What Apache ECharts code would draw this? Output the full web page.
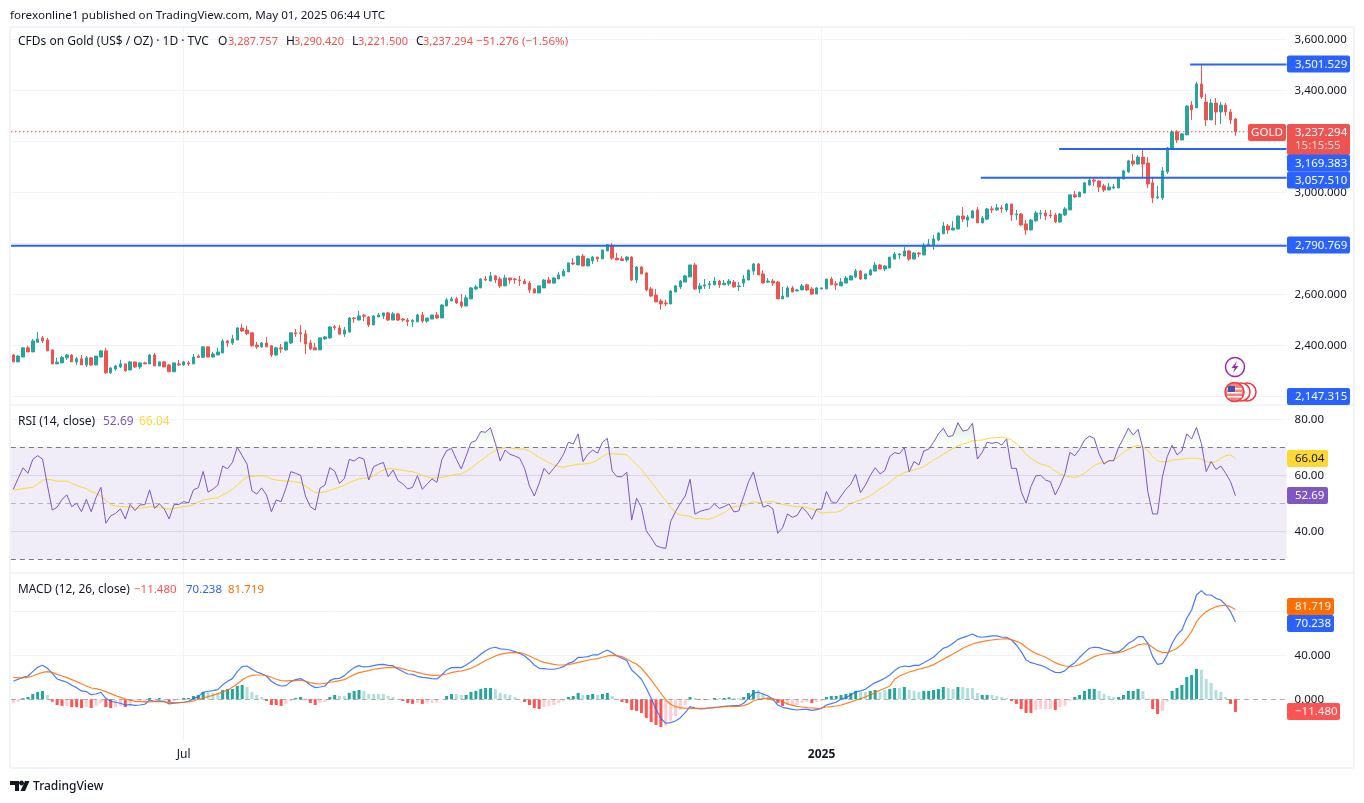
<!DOCTYPE html>
<html>
<head>
<meta charset="utf-8">
<title>CFDs on Gold</title>
<script src="https://cdn.jsdelivr.net/npm/echarts@6/dist/echarts.min.js"></script>
<style>
  html, body { margin: 0; padding: 0; background: #fff; }
  #chart { width: 1364px; height: 803px; }
</style>
</head>
<body>
<div id="chart"></div>
<script>
// open, close, low, high for each daily bar
var ohlc = [
[2362,2335,2335,2365],[2335,2358,2335,2362],[2354,2390,2354,2392],[2390,2374,2374,2398],[2374,2417,2374,2425],[2412,2425,2409,2452],[2429,2417,2409,2437],[2421,2378,2378,2429],[2382,2327,2327,2384],[2327,2334,2327,2351],
[2331,2353,2331,2358],[2351,2362,2343,2366],[2362,2335,2335,2365],[2335,2347,2323,2354],[2347,2323,2323,2362],[2323,2351,2315,2358],[2351,2323,2319,2353],[2323,2358,2323,2358],[2354,2378,2354,2382],[2378,2292,2288,2390],
[2292,2311,2288,2314],[2307,2319,2300,2323],[2315,2327,2311,2343],[2327,2300,2296,2327],[2303,2335,2303,2339],[2335,2315,2311,2335],[2315,2331,2307,2335],[2331,2327,2327,2335],[2327,2362,2327,2366],[2362,2319,2319,2370],
[2319,2335,2319,2335],[2335,2315,2315,2339],[2323,2296,2296,2327],[2296,2331,2296,2331],[2327,2323,2319,2343],[2323,2335,2319,2339],[2331,2327,2319,2339],[2327,2354,2327,2366],[2358,2353,2351,2364],[2353,2394,2351,2394],
[2394,2354,2354,2394],[2354,2366,2351,2374],[2362,2374,2362,2390],[2370,2417,2370,2424],[2417,2409,2394,2421],[2409,2425,2401,2441],[2421,2468,2421,2472],[2468,2456,2452,2484],[2460,2445,2441,2476],[2449,2398,2394,2449],
[2401,2394,2386,2413],[2394,2409,2390,2413],[2409,2394,2394,2433],[2398,2362,2354,2401],[2362,2390,2358,2394],[2390,2386,2370,2405],[2382,2413,2378,2413],[2409,2449,2405,2452],[2449,2445,2433,2464],[2449,2445,2413,2480],
[2445,2405,2366,2460],[2409,2386,2382,2421],[2390,2382,2382,2409],[2382,2429,2382,2429],[2425,2433,2421,2437],[2429,2472,2425,2476],[2473,2469,2460,2480],[2468,2444,2441,2480],[2444,2460,2433,2472],[2452,2507,2452,2511],
[2507,2505,2488,2511],[2499,2515,2499,2535],[2518,2514,2495,2523],[2511,2480,2472,2515],[2480,2515,2480,2519],[2511,2519,2511,2527],[2515,2527,2503,2527],[2527,2499,2495,2531],[2499,2523,2499,2531],[2523,2499,2495,2527],
[2503,2499,2492,2507],[2499,2493,2476,2507],[2493,2497,2472,2503],[2492,2519,2492,2523],[2519,2495,2488,2531],[2495,2507,2488,2507],[2503,2519,2503,2519],[2519,2507,2503,2531],[2507,2558,2507,2562],[2554,2578,2554,2586],
[2574,2582,2574,2590],[2582,2566,2562,2590],[2570,2554,2546,2601],[2554,2586,2554,2597],[2582,2625,2582,2629],[2621,2629,2617,2637],[2625,2660,2625,2664],[2660,2656,2652,2672],[2652,2672,2652,2688],[2672,2656,2644,2676],
[2660,2633,2625,2668],[2633,2664,2633,2676],[2664,2656,2641,2664],[2660,2657,2641,2664],[2656,2654,2633,2672],[2652,2641,2641,2660],[2644,2617,2605,2652],[2621,2605,2605,2625],[2605,2633,2605,2633],[2625,2656,2625,2660],
[2656,2644,2644,2668],[2644,2664,2641,2668],[2660,2676,2660,2688],[2672,2691,2672,2699],[2688,2723,2688,2723],[2723,2719,2715,2742],[2715,2750,2715,2750],[2750,2711,2711,2758],[2711,2739,2711,2742],[2731,2746,2719,2750],
[2746,2739,2727,2746],[2739,2774,2739,2774],[2770,2795,2770,2797],[2793,2742,2735,2801],[2742,2735,2735,2762],[2739,2733,2731,2750],[2735,2746,2727,2750],[2746,2656,2652,2750],[2656,2707,2644,2711],[2707,2680,2680,2711],
[2684,2617,2613,2688],[2621,2593,2590,2629],[2597,2570,2570,2621],[2574,2562,2539,2582],[2566,2562,2554,2578],[2562,2613,2562,2617],[2609,2633,2609,2637],[2629,2652,2621,2656],[2648,2672,2648,2676],[2668,2715,2668,2715],
[2715,2621,2617,2723],[2621,2633,2605,2644],[2633,2637,2621,2660],[2637,2641,2621,2652],[2637,2652,2637,2668],[2652,2637,2625,2656],[2637,2644,2637,2656],[2641,2652,2633,2660],[2648,2629,2625,2656],[2630,2633,2613,2648],
[2644,2660,2629,2676],[2656,2695,2656,2695],[2691,2719,2676,2723],[2719,2676,2676,2723],[2680,2644,2644,2695],[2648,2652,2644,2664],[2652,2644,2633,2660],[2648,2582,2582,2652],[2582,2593,2582,2629],[2590,2625,2590,2633],
[2625,2609,2609,2633],[2613,2617,2613,2621],[2617,2633,2617,2641],[2637,2617,2613,2641],[2621,2601,2597,2629],[2601,2625,2601,2629],[2621,2625,2621,2625],[2621,2660,2621,2660],[2660,2637,2637,2668],[2641,2637,2617,2652],
[2633,2648,2633,2664],[2644,2664,2644,2672],[2656,2672,2656,2676],[2668,2691,2664,2699],[2691,2660,2656,2695],[2660,2680,2660,2680],[2676,2695,2672,2699],[2691,2715,2691,2727],[2715,2699,2699,2719],[2699,2711,2691,2715],
[2703,2746,2703,2746],[2738,2758,2738,2766],[2754,2758,2738,2762],[2750,2770,2750,2786],[2770,2738,2731,2774],[2738,2762,2738,2766],[2762,2758,2746,2766],[2754,2793,2754,2801],[2793,2797,2793,2817],[2793,2817,2774,2833],
[2813,2840,2809,2844],[2837,2868,2837,2884],[2868,2852,2837,2876],[2852,2860,2852,2887],[2856,2907,2856,2909],[2907,2895,2884,2942],[2891,2903,2864,2911],[2899,2927,2899,2931],[2931,2880,2880,2942],[2880,2899,2880,2907],
[2895,2935,2891,2939],[2935,2931,2919,2946],[2931,2939,2927,2954],[2939,2935,2919,2950],[2931,2954,2923,2958],[2954,2911,2888,2954],[2912,2915,2891,2931],[2915,2872,2868,2919],[2876,2852,2833,2891],[2852,2891,2852,2895],
[2888,2919,2884,2927],[2916,2919,2895,2931],[2919,2907,2891,2931],[2911,2907,2899,2931],[2911,2884,2880,2919],[2884,2915,2880,2919],[2911,2935,2907,2942],[2931,2990,2931,2990],[2990,2982,2978,3005],[2982,3001,2982,3001],
[2997,3037,2997,3040],[3029,3048,3025,3056],[3048,3044,3025,3060],[3044,3021,3001,3048],[3025,3009,3001,3033],[3009,3021,3009,3037],[3017,3021,3013,3033],[3017,3056,3017,3060],[3052,3084,3052,3088],[3080,3123,3076,3127],
[3123,3111,3103,3150],[3111,3138,3107,3146],[3138,3111,3056,3170],[3115,3033,3017,3138],[3037,2978,2958,3056],[2978,2982,2974,3025],[2978,3084,2970,3099],[3080,3174,3072,3178],[3174,3237,3174,3244],[3237,3205,3193,3244],
[3205,3229,3205,3233],[3225,3338,3225,3342],[3342,3323,3284,3358],[3331,3425,3331,3433],[3425,3374,3366,3500],[3354,3284,3260,3386],[3284,3350,3284,3366],[3350,3315,3264,3370],[3315,3342,3268,3354],[3342,3315,3299,3350],
[3315,3284,3268,3327],[3287.757,3237.294,3221.5,3290.42]
];

var rsi = [
55,58.9,62.7,60.7,65.7,67,65.8,56.5,47.6,48.6,51.4,53,48.8,50,47,51.4,47,52.1,55.7,42.9,
45.5,46.4,48,44.4,49.6,47.4,49.4,49.5,54.8,48.2,49.8,48,44.4,49.5,49.6,50.6,50.1,54.8,55.6,61.4,
54,55,56.5,63.3,62.3,64.6,70,67,64,54.5,53.3,55.5,53,47,51.2,50.6,55.4,61.3,60.7,60,
52.6,48.8,47.6,55.4,56.5,62.7,61.5,57.1,58.9,65.7,65.1,66.4,65.8,58.3,63.1,63.9,64.6,59.5,61.9,58.1,
56.9,55.1,55.7,59.9,55,56.9,58.7,57.5,
65.5,68.8,69.6,65.7,62.3,66.9,71.7,72.4,75.6,75.4,77,71.4,65.1,69,67.5,66.9,66.1,62.5,56.2,52.6,
57.1,62.5,60.4,62.5,64.6,67.5,71.8,71.2,74.8,64.9,67.5,69,67.9,71.8,73.2,61.5,59.5,59.5,61.1,44,
51.8,48.5,40.2,37.7,34.9,34.2,33.9,43.5,47,50,52.6,58.6,46.1,47.1,47.6,48,49.8,48.2,48.8,49.8,
46.9,47.3,52.4,57.7,61.2,54.2,48.6,49.3,48,39.3,41.3,46.2,45,45.7,48.6,46.8,44.3,47.9,47.9,54.2,
50.6,50,52.6,55,56.8,60.4,53.8,56.5,59.9,62.7,
60.5,61.7,66.7,68.1,67.7,69.9,61.3,64.9,63.7,68.7,69.3,71.8,74.8,76.8,73.8,74.2,78.8,75.8,76.2,78.6,
65.8,68.2,71.8,71.4,71.8,70.8,73,62.5,62.5,54.2,50,56,59.8,60,58.3,57.7,53,56.5,60.7,68.2,
67,69.3,72.6,74,73.2,67.6,64,65.2,65.2,70,73.2,76.8,74.4,76.4,69.6,54.2,46.2,46.2,59.5,66.7,
70.8,67.3,68.7,74.8,73,77.1,71.4,61.3,64.9,62.1,63.3,60.7,57.7,52.69
];

var rsiMa = [
54.8,55,55.2,55.5,55.7,56.9,58.2,58.6,58.3,57.9,57.9,57.9,57.1,56.4,55.8,55.2,54.2,53.6,52.6,51,
49.5,49,48.9,48.8,48.6,48.3,48.3,48.5,48.8,48.7,48.6,48.1,47.9,48.2,48.5,48.8,49,49.5,50.4,51.2,
51.5,51.8,52,53,53.8,55,56.5,58.1,59.3,59.6,59.8,59.8,59.6,58.7,58.3,58.1,57.9,57.9,57.6,57.4,
56.2,55,53.8,53.9,54,54.6,55.2,55.8,56.4,57.4,58.1,58.7,58.9,59.2,59.8,61,61.9,62.3,62.4,62,
61.8,61.5,61.3,60.7,60,59.4,59,59,
59.3,59.6,60,60.4,60.5,61.4,62.5,63.9,65.2,66.4,67.9,68.8,69.5,69.9,69.8,69.5,69.4,69.3,68.7,67.5,
66.4,65.5,64.5,63.7,63.1,62.9,63.3,63.6,64,64,64.2,64.6,65.5,66.7,67.7,67.7,67.6,67.5,67.3,65.5,
63.9,62.1,59.9,57.7,55.4,53,51,48.5,46.8,45.8,45.5,45.4,44.5,44.6,44.4,44.3,45,45.8,46.7,47.9,
48.8,49,49.3,49.9,50.6,50.2,50.4,50.6,50.6,50.1,49.5,49.3,49,48.8,48.8,48.5,47.9,47.4,46.5,46.7,
46.8,46.8,47.4,48.6,49.9,50.6,51.2,51.8,52.7,53.9,55.2,56.2,57.4,
58.9,60.1,61,61.4,61.9,62.5,63.1,64.3,65.5,66.4,67.5,68.6,69.6,70.5,71.1,71.7,72.4,72.5,72.6,73.1,
73.3,73.5,73.6,73.3,72.6,71.4,69.6,67.5,66.1,64.9,64,63.6,62.9,61.5,60.5,59.8,59.4,59.2,59.8,60.7,
62.1,63.5,64.3,64.6,65.1,65.5,66.7,68.1,69.3,70.2,70.7,70.2,68.8,66.7,65.2,64.8,64.9,65.5,65.6,65.8,
66,66.1,66.1,65.8,64.9,64.5,64.9,66.1,67,67.3,66.04
];

var macdLine = [
16.4,18.2,20,21.2,25.2,29.1,30.9,28.2,23.6,18.5,17,15.5,12.7,10.6,7.6,7,4.2,4.8,6.4,.9,
-1.8,-2.7,-3.6,-5.2,-4.8,-5.5,-5.2,-4.5,-.6,-1.8,-1.5,-1.8,-4.2,-3.6,-3,-2.7,-1.8,.6,2.4,6.4,
7.3,7.9,8.8,13.3,16.4,18.8,25.2,29.7,30.3,27.3,24.8,23.3,21.2,16.4,13.6,12.1,12.4,16.1,17.9,18.8,
16.4,13,10.6,11.2,12.1,17,18.8,19.1,21.5,25.5,28.8,30.6,29.4,29.7,30.6,31.5,31.8,30.9,30.6,27.6,
25.2,23,22.7,20.9,20,19.4,18.8,18.5,
22.1,26.7,28.8,29.1,28.8,31.2,34.2,37.3,40.9,44.2,46.4,47.3,45.8,45.5,44.8,43.3,41.8,39.4,35.8,31.2,
28.2,27.9,27.3,27.3,28.2,29.7,32.7,34.2,38.2,38.2,38.8,40.3,40.3,42.7,44.8,42.4,39.4,37.3,35.2,26.7,
22.7,18.2,10,.9,-9.1,-17.3,-21.8,-21.2,-19.7,-16.7,-12.1,-6.7,-7.9,-8.8,-8.5,-7.9,-7.3,-7,-6.4,-6.1,
-5.8,-5.8,-3.6,.9,5.5,6.4,4.8,3,.3,-5.2,-7.3,-8.2,-9.1,-9.7,-9.1,-9.1,-10,-9.4,-8.2,-5.2,
-3.9,-2.7,0,1.5,3.9,6.7,7.6,9.1,12.4,15.2,17,19.1,22.1,
26.1,29.1,30.3,29.7,30.9,30.9,33.3,35.8,38.2,42.4,46.4,47.9,50.9,54.5,56.1,57.6,59.4,57,56.4,57,
57.6,57.6,56.4,56.4,53.9,49.4,43.3,35.8,33.3,32.1,30.9,29.1,26.7,24.5,24.2,26.1,30.3,33.3,38.2,42.4,
46.4,47.3,47,45.5,44.2,42.7,43.3,46.4,50.9,53.3,57,57,50.9,38.8,31.8,32.7,40.3,50.9,58.5,63,
73.6,81.2,94.8,98.8,94.8,94.8,91.8,90.3,85.8,79.7,70.238
];

var signalLine = [
20,19.4,19.4,20,21.2,23,24.5,25.2,24.5,22.7,21.2,19.7,17.9,16.1,14.2,12.1,10.3,9.7,8.5,7,
5.2,3.3,1.8,.3,-.9,-1.8,-2.1,-2.4,-2.4,-2.1,-2.1,-2.4,-3,-3,-3,-2.7,-2.4,-1.5,0,1.2,
2.4,3.6,5.2,6.7,8.5,10.9,13.9,17.6,20.3,21.8,22.1,22.1,21.5,20,18.2,17,16.7,17,17,17.3,
16.4,15.2,14.2,13.9,14.5,15.5,16.1,17,17.9,20.3,22.4,24.2,25.2,26.1,27.3,27.9,28.5,28.8,29.1,28.8,
27.6,26.4,25.5,24.5,23.3,22.4,21.8,21.8,
22.1,23,24.2,25.2,25.8,26.7,28.2,30.3,32.7,35.2,37.3,39.4,40.9,41.8,42.4,42.4,42.4,41.2,39.4,37.3,
35.2,33.6,32.7,31.8,31.2,31.2,31.5,32.4,33.6,34.5,35.5,36.4,37,38.2,39.4,40,39.7,38.8,36.7,34.2,
32.1,28.2,23,17.6,11.5,5.5,-.6,-4.5,-6.7,-7.6,-8.2,-8.2,-8.2,-8.2,-8.2,-7.9,-7.6,-7,-6.7,-6.4,
-6.4,-6.4,-5.8,-4.2,-1.5,0,.6,.9,.6,-.6,-2.4,-4.2,-5.5,-6.4,-7,-7.6,-7.9,-8.2,-7.9,-7,
-6.7,-6.1,-5.2,-3.9,-2.4,-.9,.6,2.1,4.2,6.1,8.2,10,12.1,
18.2,21.2,23,24.8,26.1,27.3,28.5,29.7,31.5,33.9,36.4,38.8,41.2,43.6,46.4,48.5,50.3,51.5,52.4,53.3,
53.9,54.5,54.8,55.2,54.2,52.7,50.9,47.3,44.2,41.8,40,38.2,35.8,33.3,31.5,30.3,29.7,30.3,31.5,33.9,
36.4,38.8,40.3,41.2,41.5,41.8,42.4,43.6,45.5,47.3,49.4,50.3,50.3,47.3,44.2,42.4,42.4,44.2,46.4,50,
55.5,61.5,70.6,75.8,79.7,82.1,84.2,85.2,85.5,84.2,81.719
];

var histValues = [
-3.6,-2.4,1,2.1,4.8,6.7,7.6,3.9,-2.1,-5.2,-6,-6,-7,-7,-7.9,-7,-7.9,-6,-3.3,-7,
-7.9,-7,-6,-7,-4.2,-2.4,-1.5,-2.4,1.2,.5,1.2,.3,-2.4,-1.5,.3,1.2,1.2,3,3.9,6.7,
6.7,5.8,5.8,8.5,9.4,9.4,12.1,13,11.2,6.7,3.9,2.1,-1.5,-5.2,-5.2,-6,-4.2,-1.5,1.2,2.1,
-.6,-3.3,-5.2,-3.3,-2.4,2.1,3.9,3,3,5.8,7.6,8.5,7.6,4.8,4.8,4.8,4.8,3,2.1,-.3,
-1.5,-3.3,-4.2,-3.3,-4.2,-3.3,-3.3,-3.3,
-.3,3,4.8,4.8,3.9,3.9,6.7,7.6,9.4,10.3,10.3,9.4,5.8,4.8,3.9,2.1,-.3,-2.4,-5.2,-7.9,
-8.8,-7,-6,-5.2,-3.3,-1.5,2.1,3,5.8,3.9,3.9,4.8,3.9,4.8,5.8,3,-.3,-2.4,-3.3,-9.7,
-10.6,-12.4,-17,-20.6,-23.3,-25.2,-24.2,-19.7,-15.2,-9.7,-5.2,2.1,1.2,-.6,-.6,-.6,1.2,1.2,1.2,1.8,
1.2,1.2,2.1,5.8,8.5,8.5,4.8,2.1,-1,-3.3,-6,-5.2,-5.2,-5.2,-3.3,-2.4,-3.3,-2.4,-1.5,2.1,
3,3,3.9,4.8,5.8,7.6,6.7,6.7,7.6,8.5,6.7,8.5,9.4,
10.3,10.3,11.2,8.5,7.6,6.7,7.6,7.6,8.5,9.4,11.2,10.3,9.4,11.2,11.2,10.3,10.3,5.8,3.9,3.9,
3.9,3,2.1,1.2,-1.5,-4.2,-8.8,-12.4,-12.4,-9.7,-8.8,-8.8,-8.8,-9.7,-6.9,-6,-1.5,2.1,3.9,7.6,
9.4,9.4,7.6,4.8,3,2.1,2.1,3.9,7.6,7.6,9.4,7.6,-.3,-8.8,-13.3,-10.6,-2.4,7.6,10.3,13,
20.3,22.1,27.6,26.7,18.5,14.8,8.5,6.7,2.1,-4.2,-11.48
];

// 1 = strong bar colour, 0 = pale bar colour
var histStrong = [
0,0,1,1,1,1,1,0,1,1,1,0,1,1,1,0,1,0,0,1,
1,0,0,1,0,0,0,0,1,0,1,0,1,0,1,1,1,1,1,1,
0,0,0,1,1,1,1,1,0,0,0,0,1,1,1,1,0,0,1,1,
1,1,1,0,0,1,1,0,0,1,1,1,0,0,0,0,0,0,0,1,
1,1,1,0,1,0,0,0,
0,1,1,0,0,1,1,1,1,1,1,0,0,0,0,0,0,1,1,1,
1,0,0,0,0,0,1,1,1,0,1,1,0,1,1,0,0,1,1,1,
1,1,1,1,1,1,0,0,0,0,0,1,0,1,1,0,1,0,1,1,
0,0,1,1,1,0,0,0,1,1,1,0,0,0,0,0,1,0,0,1,
1,1,1,1,1,1,0,0,1,1,0,0,1,
1,0,1,0,0,0,1,1,1,1,1,0,0,1,0,0,0,0,1,1,
0,0,0,0,1,1,1,1,1,0,0,0,0,1,0,0,0,1,1,1,
1,1,0,0,0,0,1,1,1,1,1,0,0,1,1,0,0,1,1,1,
1,1,1,0,0,0,0,0,0,1,1
];

var levelValues = [2790.769, 3057.51, 3169.383, 3501.529];
var levelStarts = [0, 199.2, 215.3, 242.2];
var lastPrice = 3237.294;
var lastPriceEnd = 254;
var xTicks = { '2024-07-01': 'Jul', '2025-01-02': '2025' };
var closedDays = ['2024-12-25', '2025-01-01'];

var BAR_SLOTS = 262;
var dates = [];
var day = Date.UTC(2024, 4, 13);
while (dates.length < BAR_SLOTS) {
  var d = new Date(day);
  var iso = d.toISOString().slice(0, 10);
  if (d.getUTCDay() !== 0 && d.getUTCDay() !== 6 && closedDays.indexOf(iso) < 0) {
    dates.push(iso);
  }
  day += 86400000;
}

var INK = '#131722';
var RED = '#ef5350';
var GREEN = '#26a69a';
var BLUE = '#2962ff';
var PURPLE = '#7e57c2';
var YELLOW = '#fdd835';
var ORANGE = '#ff6d00';
var GRID = '#f0f3fa';
var FONT = '"Noto Sans", sans-serif';
var GRID_LEFT = 10.87;
var GRID_WIDTH = 1275.7;

var elements = [];

function addText(x, y, str, color, font, align) {
  elements.push({
    type: 'text', silent: true,
    style: {
      x: x, y: y + 1, text: str, fill: color, font: font || '11.5px ' + FONT,
      align: align || 'left', verticalAlign: 'middle',
      textAlign: align || 'left', textVerticalAlign: 'middle'
    }
  });
}

function addRect(x, y, w, h, fill, r) {
  elements.push({
    type: 'rect', silent: true,
    shape: { x: x, y: y, width: w, height: h, r: r || 0 },
    style: { fill: fill }
  });
}

function addLine(x1, y1, x2, y2, color, width) {
  elements.push({
    type: 'line', silent: true,
    shape: { x1: x1, y1: y1, x2: x2, y2: y2 },
    style: { stroke: color, lineWidth: width || 1 }
  });
}

function addCircle(cx, cy, r, fill, stroke, width) {
  elements.push({
    type: 'circle', silent: true,
    shape: { cx: cx, cy: cy, r: r },
    style: { fill: fill, stroke: stroke, lineWidth: width || 1 }
  });
}

function addPoly(points, fill) {
  elements.push({
    type: 'polygon', silent: true,
    shape: { points: points },
    style: { fill: fill }
  });
}

function addTag(cy, str, fill, textColor, width) {
  addRect(1287, cy - 8.5, width || 63, 17, fill, 2);
  addText(1295, cy - 0.5, str, textColor || '#fff');
}

// frame and pane separators
elements.push({
  type: 'rect', silent: true,
  shape: { x: 10, y: 27, width: 1344, height: 741, r: 2 },
  style: { fill: 'transparent', stroke: GRID, lineWidth: 2 }
});
addLine(10, 405, 1354, 405, '#e8eaf0', 1);
addLine(10, 573, 1354, 573, '#e8eaf0', 1);

var LEGEND_FONT = '12px ' + FONT;
var VALUE_FONT = '11px ' + FONT;

// header and legends
addText(10, 14.5, 'forexonline1 published on TradingView.com, May 01, 2025 06:44 UTC', INK, '11.65px ' + FONT);
addText(18, 41, 'CFDs on Gold (US$ / OZ) · 1D · TVC', INK, LEGEND_FONT);
addText(218, 41, 'O', INK, LEGEND_FONT);
addText(228, 41, '3,287.757', RED, VALUE_FONT);
addText(286, 41, 'H', INK, LEGEND_FONT);
addText(294, 41, '3,290.420', RED, VALUE_FONT);
addText(352, 41, 'L', INK, LEGEND_FONT);
addText(358, 41, '3,221.500', RED, VALUE_FONT);
addText(416, 41, 'C', INK, LEGEND_FONT);
addText(423, 41, '3,237.294', RED, VALUE_FONT);
addText(476, 41, '−51.276 (−1.56%)', RED, '11.6px ' + FONT);

addText(18, 420.5, 'RSI (14, close)', INK, LEGEND_FONT);
addText(103, 420.5, '52.69', PURPLE, LEGEND_FONT);
addText(139, 420.5, '66.04', YELLOW, LEGEND_FONT);

addText(18, 588.5, 'MACD (12, 26, close)', INK, '11.8px ' + FONT);
addText(134, 588.5, '−11.480', '#ff5252', '11.5px ' + FONT);
addText(186, 588.5, '70.238', BLUE, '11.5px ' + FONT);
addText(228, 588.5, '81.719', ORANGE, '11.5px ' + FONT);

// price scale tags
addTag(64, '3,501.529', BLUE);
addRect(1248, 124, 38, 17, RED, 2);
addText(1267, 132, 'GOLD', '#fff', '11.5px ' + FONT, 'center');
addRect(1287, 124, 63, 31, RED, 2);
addText(1295, 131.5, '3,237.294', '#fff');
addText(1295, 144.5, '15:15:55', 'rgba(255,255,255,0.8)');
addTag(163, '3,169.383', BLUE);
addTag(180, '3,057.510', BLUE);
addTag(245, '2,790.769', BLUE);
addTag(396.5, '2,147.315', BLUE);

addTag(458.5, '66.04', YELLOW, INK, 41);
addTag(495.5, '52.69', PURPLE, '#fff', 41);

addTag(606.5, '81.719', ORANGE, '#fff', 47);
addTag(623.5, '70.238', BLUE, '#fff', 47);
addTag(711.5, '−11.480', '#ff5252', '#fff', 53);

// event icons
addCircle(1235, 367, 9.5, '#fff', '#9c27b0', 1.5);
addPoly([[1237, 361], [1231.5, 368], [1234.8, 368], [1233, 373], [1238.5, 366], [1235.2, 366]], '#9c27b0');
addCircle(1247, 392, 9, '#fff', '#f23645', 1.5);
addCircle(1241, 392, 9, '#fff', '#f23645', 1.5);
addCircle(1234.5, 392, 9.5, '#f4827d', '#f23645', 1.5);
addRect(1227, 388, 15, 1.5, '#fff');
addRect(1227, 392, 15, 1.5, '#fff');
addRect(1227, 396, 15, 1.5, '#fff');
addRect(1228, 386, 7, 6, '#3f51b5', 1);

// TradingView mark
addPoly([[10, 781], [19, 781], [19, 791], [15, 791], [15, 785], [10, 785]], INK);
addCircle(21.5, 783, 2, INK, INK, 0);
addPoly([[25, 781], [29.5, 781], [25, 791], [20.5, 791]], INK);
addText(33, 785.5, 'TradingView', INK, '500 12px ' + FONT);

elements.forEach(function (el) {
  el.z = 100;
});

function isTick(index) {
  return !!xTicks[dates[index]];
}

function categoryAxis(gridIndex) {
  return {
    type: 'category', gridIndex: gridIndex, data: dates, show: false, boundaryGap: true
  };
}

function levelSeries(value, start, end, color, width, style) {
  return {
    type: 'line', xAxisIndex: 4, yAxisIndex: 0, data: [[start, value], [end, value]],
    symbol: 'none', silent: true, z: 4,
    lineStyle: { color: color, width: width, type: style || 'solid' }
  };
}

var series = [
  {
    type: 'candlestick', xAxisIndex: 0, yAxisIndex: 0, data: ohlc, barWidth: 3, z: 3,
    itemStyle: { color: GREEN, color0: RED, borderColor: GREEN, borderColor0: RED, borderWidth: 1 }
  },
  levelSeries(lastPrice, 0, lastPriceEnd, '#f23645', 1, [1.5, 2.5])
];
levelValues.forEach(function (value, i) {
  series.push(levelSeries(value, levelStarts[i], BAR_SLOTS, BLUE, 2));
});

series.push({
  type: 'line', xAxisIndex: 1, yAxisIndex: 1, data: rsi.map(function (v) { return Math.max(v, 70); }),
  symbol: 'none', silent: true, lineStyle: { opacity: 0 }, z: 2,
  areaStyle: {
    origin: 70,
    color: new echarts.graphic.LinearGradient(0, 0, 0, 1, [
      { offset: 0, color: 'rgba(76,175,80,0.28)' },
      { offset: 1, color: 'rgba(76,175,80,0)' }
    ])
  }
});
series.push({
  type: 'line', xAxisIndex: 1, yAxisIndex: 1, data: rsiMa, symbol: 'none', silent: true, z: 3,
  lineStyle: { color: YELLOW, width: 1 }
});
series.push({
  type: 'line', xAxisIndex: 1, yAxisIndex: 1, data: rsi, symbol: 'none', silent: true, z: 4,
  lineStyle: { color: PURPLE, width: 1 },
  markArea: {
    silent: true,
    itemStyle: { color: 'rgba(126,87,194,0.11)' },
    data: [[{ yAxis: 70, x: GRID_LEFT }, { yAxis: 30, x: GRID_LEFT + GRID_WIDTH }]]
  },
  markLine: {
    silent: true, symbol: 'none', label: { show: false },
    data: [
      { yAxis: 70, lineStyle: { color: '#787b86', type: [5, 4], width: 1 } },
      { yAxis: 50, lineStyle: { color: 'rgba(120,123,134,0.5)', type: [5, 4], width: 1 } },
      { yAxis: 30, lineStyle: { color: '#787b86', type: [5, 4], width: 1 } }
    ]
  }
});

series.push({
  type: 'bar', xAxisIndex: 2, yAxisIndex: 2, barWidth: 3, silent: true, z: 2,
  data: histValues.map(function (v, i) {
    var color = v >= 0
      ? (histStrong[i] ? GREEN : '#b2dfdb')
      : (histStrong[i] ? '#ff5252' : '#ffcdd2');
    return { value: v, itemStyle: { color: color } };
  }),
  markLine: {
    silent: true, symbol: 'none', label: { show: false },
    lineStyle: { color: 'rgba(120,123,134,0.6)', type: [5, 4], width: 1 },
    data: [{ yAxis: 0 }]
  }
});
series.push({
  type: 'line', xAxisIndex: 2, yAxisIndex: 2, data: macdLine, symbol: 'none', silent: true, z: 3, clip: false,
  lineStyle: { color: BLUE, width: 1.2, opacity: 0.85 }
});
series.push({
  type: 'line', xAxisIndex: 2, yAxisIndex: 2, data: signalLine, symbol: 'none', silent: true, z: 4, clip: false,
  lineStyle: { color: ORANGE, width: 1.2, opacity: 0.85 }
});

var chart = echarts.init(document.getElementById('chart'), null, { renderer: 'canvas' });
chart.setOption({
  animation: false,
  backgroundColor: '#fff',
  textStyle: { fontFamily: FONT },
  grid: [
    { left: GRID_LEFT, width: GRID_WIDTH, top: 39.3, height: 357 },
    { left: GRID_LEFT, width: GRID_WIDTH, top: 419.3, height: 140 },
    { left: GRID_LEFT, width: GRID_WIDTH, top: 611.3, height: 132 },
    { left: GRID_LEFT, width: GRID_WIDTH, top: 27, height: 714 }
  ],
  xAxis: [
    categoryAxis(0),
    categoryAxis(1),
    categoryAxis(2),
    {
      type: 'category', gridIndex: 3, data: dates, boundaryGap: true,
      axisLine: { show: false },
      axisTick: { show: false, alignWithLabel: true, interval: function (i) { return isTick(i); } },
      splitLine: {
        show: true, alignWithLabel: true,
        interval: function (i) { return isTick(i); },
        lineStyle: { color: GRID, width: 1 }
      },
      axisLabel: {
        interval: function (i) { return isTick(i); },
        color: INK, fontSize: 12, fontFamily: FONT, margin: 8,
        formatter: function (value) {
          return xTicks[value] === '2025' ? '{b|2025}' : (xTicks[value] || '');
        },
        rich: { b: { fontWeight: 700, fontSize: 12, color: INK, fontFamily: FONT } }
      }
    },
    { type: 'value', gridIndex: 0, min: 0, max: BAR_SLOTS, show: false, position: 'top' }
  ],
  yAxis: [
    {
      type: 'value', gridIndex: 0, position: 'right', min: 2200, max: 3600, interval: 200,
      axisLine: { show: false }, axisTick: { show: false },
      splitLine: { lineStyle: { color: GRID, width: 1 } },
      axisLabel: {
        color: INK, fontSize: 11.5, fontFamily: FONT, margin: 8,
        formatter: function (v) { return v.toLocaleString('en-US') + '.000'; }
      }
    },
    {
      type: 'value', gridIndex: 1, position: 'right', min: 30, max: 80, interval: 10,
      axisLine: { show: false }, axisTick: { show: false },
      splitLine: { lineStyle: { color: ['transparent', '#e6e3ef', 'transparent', '#e6e3ef', 'transparent', GRID], width: 1 } },
      axisLabel: {
        color: INK, fontSize: 11.5, fontFamily: FONT, margin: 8,
        formatter: function (v) { return v === 40 || v === 60 || v === 80 ? v.toFixed(2) : ''; }
      }
    },
    {
      type: 'value', gridIndex: 2, position: 'right', min: -40, max: 80, interval: 40,
      axisLine: { show: false }, axisTick: { show: false },
      splitLine: { lineStyle: { color: ['transparent', 'transparent', GRID, GRID], width: 1 } },
      axisLabel: {
        color: INK, fontSize: 11.5, fontFamily: FONT, margin: 8,
        formatter: function (v) { return v === 0 || v === 40 ? v.toFixed(3) : ''; }
      }
    },
    { type: 'value', gridIndex: 3, min: 0, max: 1, show: false }
  ],
  series: series,
  graphic: { elements: elements }
});
</script>
</body>
</html>
